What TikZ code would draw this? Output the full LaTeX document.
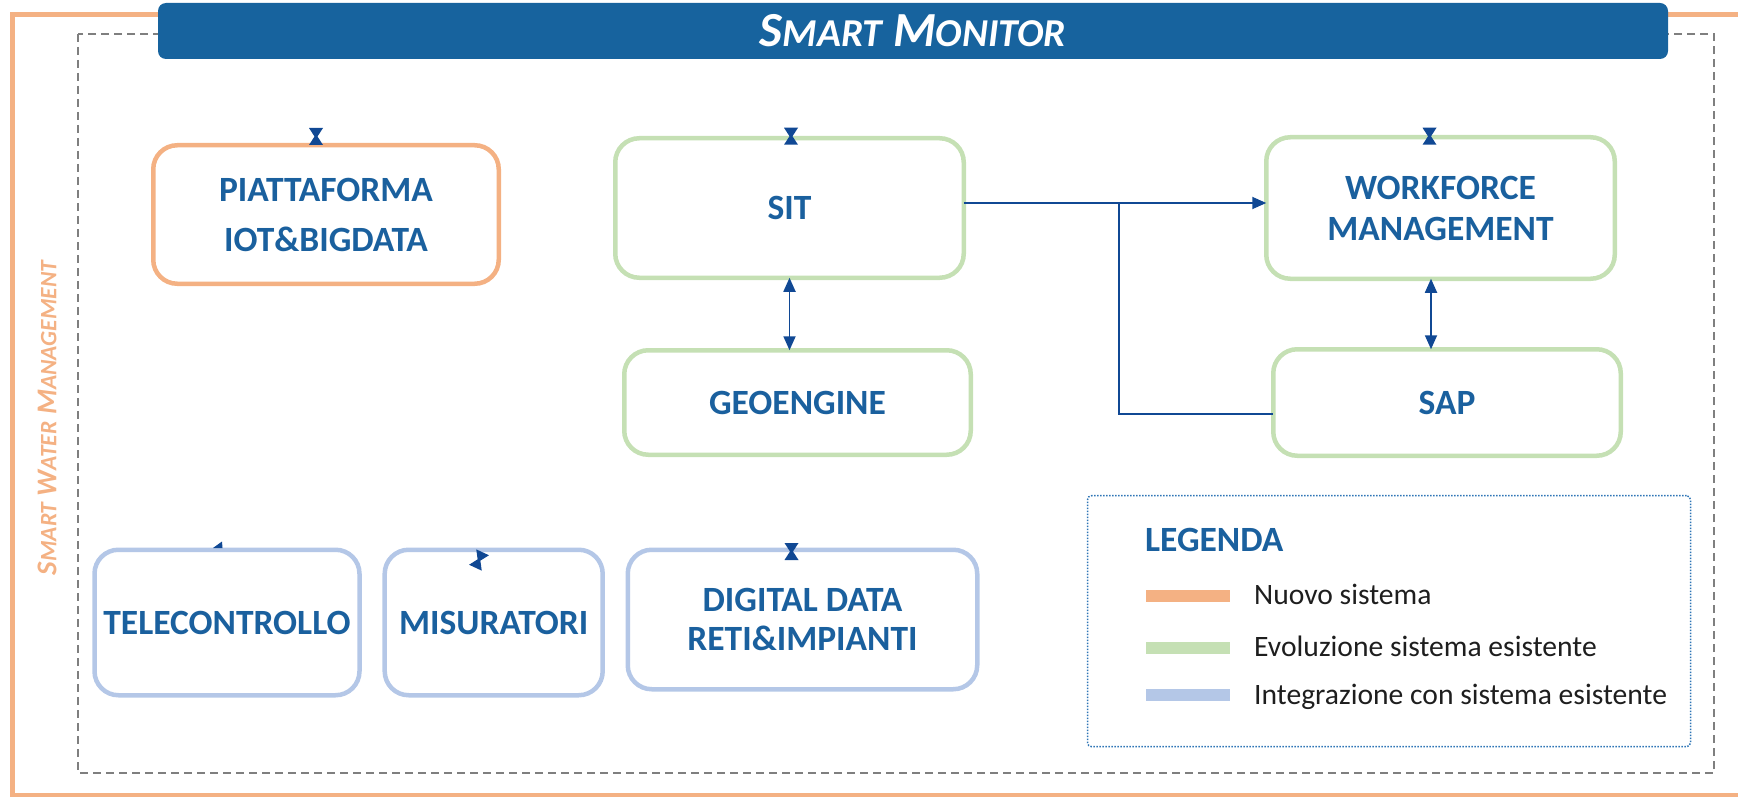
\documentclass[tikz,border=0pt]{standalone}
\usepackage{fontspec}
\setmainfont{Carlito}
\usetikzlibrary{arrows.meta,calc}

\definecolor{barblue}{RGB}{23,99,158}
\definecolor{txtblue}{RGB}{26,96,158}
\definecolor{lnblue}{RGB}{16,72,148}
\definecolor{neworange}{RGB}{244,177,131}
\definecolor{evgreen}{RGB}{197,224,180}
\definecolor{intblue}{RGB}{180,199,231}
\definecolor{framegray}{RGB}{127,127,127}
\definecolor{legblue}{RGB}{46,117,182}
\definecolor{legtext}{RGB}{30,30,30}

% small caps built from two sizes of capitals
\newcommand\capsat[2]{{\fontsize{#1}{#1}\selectfont #2}}

\tikzset{
  sysbox/.style={draw, line width=4.5pt, rounded corners=24pt, fill=white,
    text=txtblue, font=\fontsize{35.5}{40}\selectfont\bfseries, align=center,
    outer sep=0pt, inner sep=0pt},
  newsys/.style={sysbox, draw=neworange},
  evosys/.style={sysbox, draw=evgreen},
  intsys/.style={sysbox, draw=intblue},
  link/.style={draw=lnblue, line width=1.8pt},
  onehead/.style={link, -{Triangle[length=14pt,width=12pt]}},
  twoheads/.style={link, {Triangle[length=14pt,width=12pt]}-{Triangle[length=14pt,width=12pt]}},
  swatch/.style={minimum width=84pt, minimum height=12pt, inner sep=0pt, outer sep=0pt},
  legitem/.style={anchor=base west, text=legtext, font=\fontsize{29.6}{34}\selectfont, inner sep=0pt},
  pics/tie/.style={code={
    \fill[lnblue] (-7,-8.5) -- (7,-8.5) -- (1.5,0) -- (7,8.5) -- (-7,8.5) -- (-1.5,0) -- cycle;
  }}
}

\begin{document}
\begin{tikzpicture}[x=1pt,y=-1pt]
\useasboundingbox (0,0) rectangle (1738,797);
\clip (0,0) rectangle (1738,797);

% outer frame of the Smart Water Management area
\draw[neworange, line width=5pt] (12.5,14.5) rectangle (1770,795.5);
% dashed inner frame
\draw[framegray, line width=1.8pt, dash pattern=on 8pt off 5pt] (78,34) rectangle (1714,773);

% title bar
\node[fill=barblue, rounded corners=8pt, minimum width=1510pt, minimum height=56pt,
      inner sep=0pt, text=white, font=\fontsize{49}{50}\selectfont\bfseries\itshape] (bar) at (913,31)
  {\capsat{49}{S}\capsat{39.5}{MART} \capsat{49}{M}\capsat{39.5}{ONITOR}};

% side label
\node[rotate=90, text=neworange, font=\fontsize{28.7}{30}\selectfont\bfseries\itshape] (swm) at (47,418)
  {\capsat{28.7}{S}\capsat{23.5}{MART} \capsat{28.7}{W}\capsat{23.5}{ATER} \capsat{28.7}{M}\capsat{23.5}{ANAGEMENT}};

% systems
\node[newsys, minimum width=345.5pt, minimum height=138.5pt, font=\fontsize{35.5}{50}\selectfont\bfseries]
  (piat) at (326,214.5) {PIATTAFORMA\\IOT\&BIGDATA};
\node[evosys, minimum width=348.5pt, minimum height=139.5pt] (sit) at (789.5,208) {SIT};
\node[evosys, minimum width=346.5pt, minimum height=104.5pt] (geo) at (797.5,402.5) {GEOENGINE};
\node[evosys, minimum width=348.5pt, minimum height=141.5pt, font=\fontsize{35.5}{41}\selectfont\bfseries]
  (wf) at (1440.5,208) {WORKFORCE\\MANAGEMENT};
\node[evosys, minimum width=347.5pt, minimum height=106.5pt] (sap) at (1447,402.5) {SAP};
\node[intsys, minimum width=265pt, minimum height=145.5pt] (tele) at (227,622.5) {TELECONTROLLO};
\node[intsys, minimum width=218pt, minimum height=145.5pt] (mis) at (493.7,622.5) {MISURATORI};
\node[intsys, minimum width=349.5pt, minimum height=139.5pt, font=\fontsize{35.5}{39}\selectfont\bfseries]
  (dig) at (802.5,619.5) {DIGITAL DATA\\RETI\&IMPIANTI};

% connectors
\draw[twoheads] (sit.south) -- (sit.south |- geo.north);
\draw[onehead] ([yshift=5pt]sit.east) -- ([yshift=5pt]sit.east -| wf.west);
\coordinate (br) at (1119,203);
\draw[link] (br) |- ([yshift=-11.5pt]sap.west);
\draw[twoheads] ([xshift=-9.5pt]wf.south) -- ([xshift=-9.5pt]wf.south |- sap.north);

% link stubs on the system boxes
\pic at ([xshift=-10pt,yshift=8.75pt]piat.north) {tie};
\pic at ([xshift=1.5pt,yshift=2pt]sit.north) {tie};
\pic at ([xshift=-11pt,yshift=1pt]wf.north) {tie};
\pic at ([xshift=-11pt,yshift=-1.75pt]dig.north) {tie};
\pic[rotate=-25] at (479,560) {tie};
\fill[lnblue] (213,548) -- (222,541.5) -- (222.5,548) -- cycle;

% legend
\node[draw=legblue, line width=1.5pt, dash pattern=on 1.5pt off 1.5pt, rounded corners=4pt,
      minimum width=603pt, minimum height=251pt, inner sep=0pt] (leg) at (1389,621.2) {};
\node[anchor=west, text=txtblue, font=\fontsize{35.5}{40}\selectfont\bfseries, inner sep=0pt]
  (legtitle) at (1145,540) {LEGENDA};
\node[swatch, fill=neworange] (sw1) at (1188,596) {};
\node[swatch, fill=evgreen] (sw2) at (1188,647.7) {};
\node[swatch, fill=intblue] (sw3) at (1188,695) {};
\node[legitem] (lt1) at (1254,604) {Nuovo sistema};
\node[legitem] (lt2) at (1254,656) {Evoluzione sistema esistente};
\node[legitem] (lt3) at (1254,704) {Integrazione con sistema esistente};
\end{tikzpicture}
\end{document}
